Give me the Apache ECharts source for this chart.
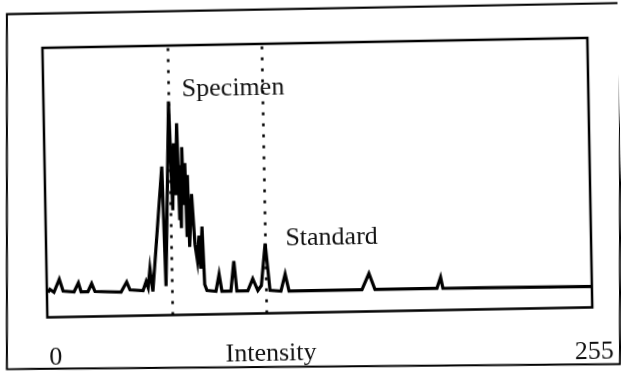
<!DOCTYPE html>
<html>
<head>
<meta charset="utf-8">
<script src="https://cdn.jsdelivr.net/npm/echarts@6/dist/echarts.min.js"></script>
<style>
    html, body { margin: 0; padding: 0; background: #fff; overflow: hidden; }
    #hist-chart { width: 621px; height: 372px; transform: rotate(-1.05deg); transform-origin: 50% 50%; }
</style>
</head>
<body>
<div id="hist-chart"></div>
<script>
// grey level histogram
var intensity = [0.5, 1.4, 3.3, 4.2, 5.9, 7.6, 12.7, 14.8, 16.0, 19.2, 21.0, 22.5, 34.7, 37.4, 38.9,
    45.0, 46.5, 47.4, 48.4, 49.6, 54.8, 55.8, 58.5, 59.6, 60.5, 61.1, 62.1, 62.8, 63.3, 63.5, 64.3,
    64.8, 65.6, 66.1, 66.7, 67.2, 68.5, 69.7, 70.7, 71.6, 72.2, 73.1, 73.9, 74.9,
    79.1, 80.7, 81.9, 86.1, 87.7, 88.9, 94.0, 96.4, 98.7, 100.4,
    102.5, 104.4, 109.5, 111.6, 113.3, 147.4, 150.8, 153.5, 182.5, 184.3, 185.3, 255];
var counts = [25, 28, 25, 25, 38, 26, 25, 34, 25, 25, 33, 25, 24, 34, 26,
    25, 34, 28, 47, 24, 149, 29, 214, 105, 172, 120, 192, 95, 150, 87, 168,
    110, 152, 78, 140, 68, 121, 70, 54, 79, 46, 88, 30, 24,
    23, 40, 23, 23, 53, 23, 23, 35, 23, 28,
    70, 23, 22, 39, 22, 22, 38, 22, 22, 33, 22, 21];

var markNames = ['Specimen', 'Standard'];
var markValues = [58.5, 102.5];
var tickLabels = ['0', '255'];
var axisTitle = 'Intensity';

function buildPoints() {
    var pts = [];
    for (var i = 0; i < intensity.length; i++) {
        pts.push([intensity[i], counts[i]]);
    }
    return pts;
}

var serifFont = '"Liberation Serif", "DejaVu Serif", serif';

function plainTxt(str, x, y, align) {
    return {
        type: 'text',
        style: {
            text: str,
            x: x,
            y: y,
            align: align,
            verticalAlign: 'middle',
            font: '26px ' + serifFont,
            fill: '#111'
        }
    };
}

var option = {
    animation: false,
    backgroundColor: '#fff',
    grid: {
        left: 45,
        right: 31,
        top: 43,
        bottom: 59.5,
        show: true,
        borderColor: '#000',
        borderWidth: 2.5,
        backgroundColor: 'transparent'
    },
    xAxis: {
        type: 'value',
        min: 0,
        max: 255,
        axisLine: { show: false },
        axisTick: { show: false },
        axisLabel: { show: false },
        splitLine: { show: false }
    },
    yAxis: {
        type: 'value',
        min: 0,
        max: 270,
        axisLine: { show: false },
        axisTick: { show: false },
        axisLabel: { show: false },
        splitLine: { show: false }
    },
    series: [
        {
            name: 'histogram',
            type: 'line',
            symbol: 'none',
            lineStyle: { color: '#000', width: 3.2, join: 'miter' },
            data: buildPoints(),
            markLine: {
                silent: true,
                symbol: 'none',
                label: { show: false },
                lineStyle: { color: '#000', width: 2.5, type: [3, 8] },
                data: [
                    { xAxis: markValues[0] },
                    { xAxis: markValues[1] }
                ]
            }
        }
    ],
    graphic: [
        {
            type: 'polygon',
            shape: { points: [[10.1, 8.4], [623.3, 8.7], [616.7, 369.7], [3.6, 363.4]] },
            style: { fill: 'none', stroke: '#000', lineWidth: 2 }
        },
        plainTxt(markNames[0], 183.6, 87.6, 'left'),
        plainTxt(markNames[1], 284.4, 237.8, 'left'),
        plainTxt(tickLabels[0], 46.2, 353, 'left'),
        plainTxt(axisTitle, 222.5, 353.5, 'left'),
        plainTxt(tickLabels[1], 610.8, 357.5, 'right')
    ]
};

var histChart = echarts.init(document.getElementById('hist-chart'));
histChart.setOption(option);
</script>
</body>
</html>
